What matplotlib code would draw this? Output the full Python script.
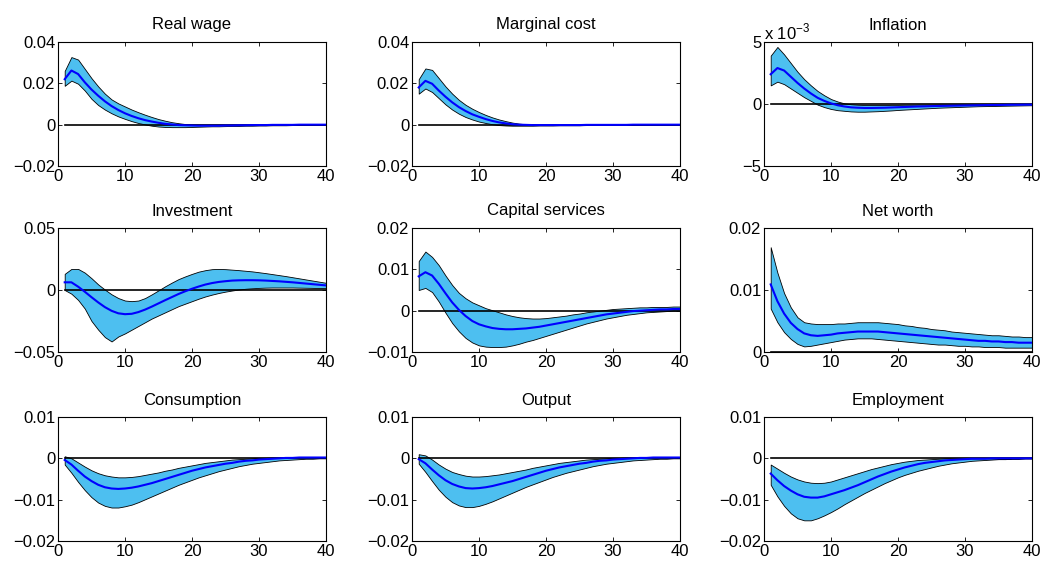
import numpy as np
import matplotlib
matplotlib.use('agg')
import matplotlib.pyplot as plt
from matplotlib.ticker import FuncFormatter

plt.rcParams['font.family'] = ['Liberation Sans', 'DejaVu Sans']
plt.rcParams['font.size'] = 12

periods = list(range(1, 41))

titles = ['Real wage', 'Marginal cost', 'Inflation',
          'Investment', 'Capital services', 'Net worth',
          'Consumption', 'Output', 'Employment']

real_wage_mean = [0.022, 0.0262, 0.0245, 0.0205, 0.017, 0.014, 0.0113, 0.009, 0.0071, 0.0055,
                  0.0042, 0.0031, 0.0022, 0.0015, 0.0009, 0.0004, 0.0001, -0.0002, -0.0003, -0.0004,
                  -0.0005, -0.0005, -0.0005, -0.0005, -0.0004, -0.0004, -0.0003, -0.0003, -0.0002, -0.0002,
                  -0.0002, -0.0001, -0.0001, -0.0001, -0.0001, 0.0, 0.0, 0.0, 0.0, 0.0]
real_wage_hi = [0.026, 0.0327, 0.0315, 0.027, 0.0225, 0.0185, 0.015, 0.0122, 0.0103, 0.0088,
                0.0073, 0.006, 0.0048, 0.0037, 0.0027, 0.0019, 0.0012, 0.0007, 0.0003, 0.0001,
                0.0, 0.0, 0.0, 0.0, 0.0, 0.0, 0.0, 0.0, 0.0, 0.0,
                0.0, 0.0, 0.0, 0.0, 0.0, 0.0, 0.0, 0.0, 0.0, 0.0]
real_wage_lo = [0.0188, 0.0213, 0.0198, 0.0165, 0.0125, 0.0095, 0.0073, 0.0055, 0.004, 0.0028,
                0.0017, 0.0008, 0.0001, -0.0005, -0.0009, -0.0011, -0.0012, -0.0012, -0.0012, -0.0011,
                -0.001, -0.0009, -0.0008, -0.0008, -0.0007, -0.0006, -0.0006, -0.0005, -0.0005, -0.0004,
                -0.0004, -0.0003, -0.0003, -0.0003, -0.0002, -0.0002, -0.0002, -0.0001, -0.0001, -0.0001]

mc_mean = [0.018, 0.0212, 0.0198, 0.0165, 0.0135, 0.0108, 0.0085, 0.0066, 0.005, 0.0038,
           0.0027, 0.0018, 0.0011, 0.0006, 0.0002, 0.0, -0.0001, -0.0002, -0.0002, -0.0002,
           -0.0002, -0.0002, -0.0002, -0.0002, -0.0002, -0.0001, -0.0001, -0.0001, -0.0001, -0.0001,
           -0.0001, -0.0001, 0.0, 0.0, 0.0, 0.0, 0.0, 0.0, 0.0, 0.0]
mc_hi = [0.022, 0.0272, 0.0265, 0.0225, 0.0185, 0.015, 0.012, 0.0096, 0.0077, 0.0061,
         0.0047, 0.0035, 0.0025, 0.0017, 0.001, 0.0005, 0.0002, 0.0001, 0.0, 0.0,
         0.0, 0.0, 0.0, 0.0, 0.0, 0.0, 0.0, 0.0, 0.0, 0.0,
         0.0, 0.0, 0.0, 0.0, 0.0, 0.0, 0.0, 0.0, 0.0, 0.0]
mc_lo = [0.015, 0.0175, 0.0158, 0.0128, 0.0098, 0.0073, 0.0053, 0.0037, 0.0025, 0.0015,
         0.0008, 0.0002, -0.0002, -0.0004, -0.0005, -0.0005, -0.0005, -0.0005, -0.0004, -0.0004,
         -0.0004, -0.0003, -0.0003, -0.0003, -0.0003, -0.0002, -0.0002, -0.0002, -0.0002, -0.0002,
         -0.0001, -0.0001, -0.0001, -0.0001, -0.0001, -0.0001, -0.0001, 0.0, 0.0, 0.0]

infl_mean = [0.0024, 0.0029, 0.0027, 0.0022, 0.0017, 0.00125, 0.00085, 0.0005, 0.00025, 0.00005,
             -0.0001, -0.0002, -0.00027, -0.0003, -0.00032, -0.00032, -0.00031, -0.0003, -0.00028, -0.00026,
             -0.00024, -0.00022, -0.0002, -0.00019, -0.00017, -0.00016, -0.00015, -0.00014, -0.00013, -0.00012,
             -0.00011, -0.0001, -0.00009, -0.00008, -0.00008, -0.00007, -0.00006, -0.00006, -0.00005, -0.00005]
infl_hi = [0.0039, 0.0046, 0.004, 0.0033, 0.0026, 0.002, 0.0015, 0.00105, 0.0007, 0.0004,
           0.0002, 0.00005, -0.00002, -0.00006, -0.00008, -0.00008, -0.00008, -0.00008, -0.00007, -0.00007,
           -0.00006, -0.00006, -0.00005, -0.00005, -0.00005, -0.00004, -0.00004, -0.00004, -0.00003, -0.00003,
           -0.00003, -0.00002, -0.00002, -0.00002, -0.00002, -0.00001, -0.00001, -0.00001, -0.00001, 0.0]
infl_lo = [0.0015, 0.0018, 0.0016, 0.00125, 0.0009, 0.00055, 0.00025, -0.00005, -0.00025, -0.0004,
           -0.0005, -0.00055, -0.0006, -0.00062, -0.00062, -0.0006, -0.00058, -0.00055, -0.00052, -0.00048,
           -0.00045, -0.00042, -0.00039, -0.00036, -0.00033, -0.0003, -0.00028, -0.00026, -0.00024, -0.00022,
           -0.0002, -0.00018, -0.00017, -0.00016, -0.00015, -0.00014, -0.00013, -0.00012, -0.00011, -0.0001]

inv_mean = [0.0062, 0.0062, 0.0027, -0.0014, -0.0058, -0.01, -0.0138, -0.0168, -0.0188, -0.0195,
            -0.0192, -0.0178, -0.0158, -0.0134, -0.0108, -0.0082, -0.0057, -0.0032, -0.001, 0.001,
            0.0028, 0.0044, 0.0056, 0.0065, 0.0071, 0.0076, 0.0078, 0.0079, 0.0079, 0.0078,
            0.0076, 0.0073, 0.007, 0.0066, 0.0062, 0.0057, 0.0052, 0.0047, 0.0042, 0.0037]
inv_hi = [0.013, 0.017, 0.017, 0.014, 0.0095, 0.0045, 0.0003, -0.0035, -0.0065, -0.0085,
          -0.009, -0.0085, -0.0065, -0.0035, -0.0003, 0.003, 0.006, 0.0088, 0.011, 0.013,
          0.0148, 0.016, 0.0168, 0.017, 0.0168, 0.0164, 0.016, 0.0155, 0.015, 0.0143,
          0.0136, 0.0128, 0.012, 0.0112, 0.0103, 0.0094, 0.0085, 0.0076, 0.0067, 0.0058]
inv_lo = [0.0, -0.003, -0.008, -0.015, -0.025, -0.032, -0.038, -0.0415, -0.0375, -0.035,
          -0.032, -0.029, -0.026, -0.023, -0.0205, -0.018, -0.0155, -0.013, -0.011, -0.009,
          -0.007, -0.0052, -0.0037, -0.0024, -0.0013, -0.0004, 0.0004, 0.001, 0.0014, 0.0017,
          0.0019, 0.002, 0.002, 0.002, 0.002, 0.0019, 0.0018, 0.0017, 0.0016, 0.0015]

cap_mean = [0.0083, 0.0093, 0.0085, 0.0065, 0.0042, 0.002, 0.0002, -0.0013, -0.0025, -0.0033,
            -0.0038, -0.0042, -0.0044, -0.0045, -0.0045, -0.0044, -0.0043, -0.0041, -0.0039, -0.0036,
            -0.0033, -0.003, -0.0027, -0.0024, -0.0021, -0.0018, -0.0015, -0.0012, -0.0009, -0.0007,
            -0.0005, -0.0003, -0.0001, 0.0, 0.0001, 0.0002, 0.0003, 0.0003, 0.0004, 0.0004]
cap_hi = [0.012, 0.0143, 0.013, 0.011, 0.0085, 0.0062, 0.0043, 0.003, 0.002, 0.0013,
          0.0006, 0.0001, -0.0004, -0.0009, -0.0013, -0.0016, -0.0018, -0.0019, -0.0019, -0.0018,
          -0.0016, -0.0014, -0.0012, -0.0009, -0.0007, -0.0004, -0.0002, 0.0, 0.0002, 0.0004,
          0.0005, 0.0006, 0.0007, 0.0008, 0.0008, 0.0009, 0.0009, 0.0009, 0.001, 0.001]
cap_lo = [0.005, 0.0055, 0.0045, 0.0022, -0.0005, -0.003, -0.005, -0.0066, -0.0077, -0.0084,
          -0.0087, -0.0088, -0.0088, -0.0087, -0.0084, -0.008, -0.0075, -0.0071, -0.0066, -0.0061,
          -0.0056, -0.0051, -0.0046, -0.0041, -0.0036, -0.0031, -0.0027, -0.0023, -0.0019, -0.0016,
          -0.0013, -0.001, -0.0008, -0.0006, -0.0004, -0.0003, -0.0002, -0.0001, 0.0, 0.0]

nw_mean = [0.0109, 0.0082, 0.0062, 0.0047, 0.0037, 0.003, 0.0027, 0.0026, 0.0027, 0.0028,
           0.003, 0.0031, 0.0032, 0.0033, 0.0033, 0.0033, 0.0033, 0.0032, 0.0031, 0.003,
           0.0029, 0.0028, 0.0027, 0.0026, 0.0025, 0.0024, 0.0023, 0.0022, 0.0021, 0.002,
           0.0019, 0.0018, 0.0018, 0.0017, 0.0017, 0.0016, 0.0016, 0.0015, 0.0015, 0.0015]
nw_hi = [0.0169, 0.0128, 0.0095, 0.0072, 0.0056, 0.0048, 0.0046, 0.0045, 0.0045, 0.0045,
         0.0046, 0.0046, 0.0047, 0.0048, 0.0048, 0.0048, 0.0048, 0.0047, 0.0046, 0.0045,
         0.0043, 0.0042, 0.004, 0.0039, 0.0037, 0.0036, 0.0035, 0.0033, 0.0032, 0.0031,
         0.003, 0.0029, 0.0028, 0.0027, 0.0027, 0.0026, 0.0025, 0.0025, 0.0024, 0.0024]
nw_lo = [0.007, 0.0048, 0.0032, 0.0021, 0.0013, 0.0009, 0.001, 0.0012, 0.0014, 0.0016,
         0.0018, 0.002, 0.0021, 0.0022, 0.0022, 0.0022, 0.0021, 0.002, 0.0019, 0.0018,
         0.0017, 0.0016, 0.0015, 0.0014, 0.0013, 0.0012, 0.0012, 0.0011, 0.001, 0.001,
         0.0009, 0.0009, 0.0008, 0.0008, 0.0008, 0.0007, 0.0007, 0.0007, 0.0007, 0.0007]

cons_mean = [-0.0004, -0.0015, -0.003, -0.0044, -0.0055, -0.0064, -0.007, -0.0073, -0.0074, -0.0073,
             -0.0071, -0.0068, -0.0064, -0.006, -0.0055, -0.005, -0.0045, -0.004, -0.0035, -0.003,
             -0.0026, -0.0022, -0.0019, -0.0016, -0.0013, -0.0011, -0.0008, -0.0006, -0.0005, -0.0003,
             -0.0002, -0.0001, 0.0, 0.0001, 0.0001, 0.0002, 0.0002, 0.0002, 0.0002, 0.0002]
cons_hi = [0.0005, 0.0, -0.001, -0.002, -0.0029, -0.0036, -0.0041, -0.0044, -0.0046, -0.0046,
           -0.0045, -0.0043, -0.004, -0.0037, -0.0034, -0.003, -0.0027, -0.0023, -0.002, -0.0017,
           -0.0014, -0.0011, -0.0009, -0.0007, -0.0005, -0.0003, -0.0002, -0.0001, 0.0, 0.0001,
           0.0001, 0.0002, 0.0002, 0.0002, 0.0003, 0.0003, 0.0003, 0.0003, 0.0003, 0.0003]
cons_lo = [-0.0015, -0.0035, -0.0057, -0.0077, -0.0094, -0.0107, -0.0115, -0.0119, -0.0119, -0.0116,
           -0.0112, -0.0106, -0.0099, -0.0092, -0.0085, -0.0078, -0.0071, -0.0064, -0.0058, -0.0052,
           -0.0046, -0.0041, -0.0036, -0.0031, -0.0027, -0.0023, -0.0019, -0.0016, -0.0013, -0.0011,
           -0.0009, -0.0007, -0.0005, -0.0004, -0.0003, -0.0002, -0.0001, -0.0001, 0.0, 0.0]

out_mean = [-0.0002, -0.0012, -0.0027, -0.0041, -0.0053, -0.0062, -0.0068, -0.0072, -0.0073, -0.0072,
            -0.007, -0.0067, -0.0063, -0.0059, -0.0055, -0.005, -0.0045, -0.004, -0.0035, -0.003,
            -0.0026, -0.0022, -0.0019, -0.0016, -0.0013, -0.0011, -0.0008, -0.0006, -0.0005, -0.0003,
            -0.0002, -0.0001, 0.0, 0.0001, 0.0001, 0.0002, 0.0002, 0.0002, 0.0002, 0.0002]
out_hi = [0.001, 0.0007, -0.0003, -0.0015, -0.0025, -0.0033, -0.0038, -0.0042, -0.0044, -0.0044,
          -0.0043, -0.0041, -0.0039, -0.0036, -0.0033, -0.003, -0.0027, -0.0023, -0.002, -0.0017,
          -0.0014, -0.0011, -0.0009, -0.0007, -0.0005, -0.0003, -0.0002, -0.0001, 0.0, 0.0001,
          0.0001, 0.0002, 0.0002, 0.0002, 0.0003, 0.0003, 0.0003, 0.0003, 0.0003, 0.0003]
out_lo = [-0.0013, -0.0033, -0.0055, -0.0076, -0.0093, -0.0106, -0.0114, -0.0118, -0.0118, -0.0115,
          -0.011, -0.0104, -0.0097, -0.009, -0.0083, -0.0076, -0.0069, -0.0063, -0.0057, -0.0051,
          -0.0045, -0.004, -0.0035, -0.0031, -0.0027, -0.0023, -0.0019, -0.0016, -0.0013, -0.0011,
          -0.0009, -0.0007, -0.0005, -0.0004, -0.0003, -0.0002, -0.0001, -0.0001, 0.0, 0.0]

emp_mean = [-0.0037, -0.0053, -0.0067, -0.0078, -0.0087, -0.0093, -0.0095, -0.0095, -0.0092, -0.0087,
            -0.0082, -0.0077, -0.0071, -0.0065, -0.0058, -0.0051, -0.0044, -0.0038, -0.0032, -0.0027,
            -0.0022, -0.0018, -0.0014, -0.0011, -0.0009, -0.0007, -0.0005, -0.0004, -0.0003, -0.0002,
            -0.0001, -0.0001, -0.0001, 0.0, 0.0, 0.0, 0.0, 0.0, 0.0, 0.0]
emp_hi = [-0.0015, -0.0025, -0.0035, -0.0044, -0.0051, -0.0056, -0.0059, -0.006, -0.0059, -0.0056,
          -0.0051, -0.0046, -0.0041, -0.0036, -0.0031, -0.0026, -0.0022, -0.0018, -0.0014, -0.0011,
          -0.0008, -0.0006, -0.0004, -0.0003, -0.0002, -0.0001, 0.0, 0.0, 0.0, 0.0,
          0.0, 0.0, 0.0, 0.0, 0.0, 0.0, 0.0, 0.0, 0.0, 0.0]
emp_lo = [-0.0064, -0.0092, -0.0115, -0.0133, -0.0145, -0.015, -0.015, -0.0145, -0.0138, -0.013,
          -0.0121, -0.0111, -0.0102, -0.0093, -0.0084, -0.0076, -0.0068, -0.006, -0.0053, -0.0046,
          -0.004, -0.0035, -0.003, -0.0026, -0.0022, -0.0018, -0.0015, -0.0012, -0.001, -0.0008,
          -0.0006, -0.0005, -0.0004, -0.0003, -0.0002, -0.0002, -0.0001, -0.0001, 0.0, 0.0]

panels = [
    (real_wage_mean, real_wage_lo, real_wage_hi, [-0.02, 0, 0.02, 0.04]),
    (mc_mean, mc_lo, mc_hi, [-0.02, 0, 0.02, 0.04]),
    (infl_mean, infl_lo, infl_hi, [-0.005, 0, 0.005]),
    (inv_mean, inv_lo, inv_hi, [-0.05, 0, 0.05]),
    (cap_mean, cap_lo, cap_hi, [-0.01, 0, 0.01, 0.02]),
    (nw_mean, nw_lo, nw_hi, [0, 0.01, 0.02]),
    (cons_mean, cons_lo, cons_hi, [-0.02, -0.01, 0, 0.01]),
    (out_mean, out_lo, out_hi, [-0.02, -0.01, 0, 0.01]),
    (emp_mean, emp_lo, emp_hi, [-0.02, -0.01, 0, 0.01]),
]

W, H = 1045, 562
col_left = [58, 412, 764]
row_top = [42, 228, 417]
ax_w, ax_h = 268, 124


def fmt(v, pos):
    s = '%g' % v
    return s.replace('-', '\u2212')


def fmt_milli(v, pos):
    s = '%g' % round(v * 1000, 6)
    return s.replace('-', '\u2212')


fig = plt.figure(figsize=(W / 100, H / 100), dpi=100)
x = np.array(periods)

for i, (mean, lo, hi, yt) in enumerate(panels):
    r, c = divmod(i, 3)
    ax = fig.add_axes([col_left[c] / W, 1 - (row_top[r] + ax_h) / H, ax_w / W, ax_h / H])
    ax.fill_between(x, lo, hi, facecolor='#4dbff0', edgecolor='black', linewidth=0.6, zorder=2)
    ax.plot(x, np.zeros(len(x)), color='black', linewidth=1.2, zorder=3)
    ax.plot(x, mean, color='blue', linewidth=1.5, zorder=4)
    ax.set_xlim(0, 40)
    ax.set_ylim(yt[0], yt[-1])
    ax.set_xticks([0, 10, 20, 30, 40])
    ax.set_yticks(yt)
    if i == 2:
        ax.yaxis.set_major_formatter(FuncFormatter(fmt_milli))
        ax.text(0.0, 1.0, 'x 10$^{\\mathregular{-3}}$', transform=ax.transAxes,
                ha='left', va='bottom', fontsize=12)
    else:
        ax.yaxis.set_major_formatter(FuncFormatter(fmt))
    ax.tick_params(direction='in', top=True, right=True, length=3, width=0.6,
                   labelsize=12, pad=2)
    for sp in ax.spines.values():
        sp.set_linewidth(0.8)
    ax.set_title(titles[i], fontsize=12, pad=9)

plt.savefig('out.png', dpi=100)
plt.close()
